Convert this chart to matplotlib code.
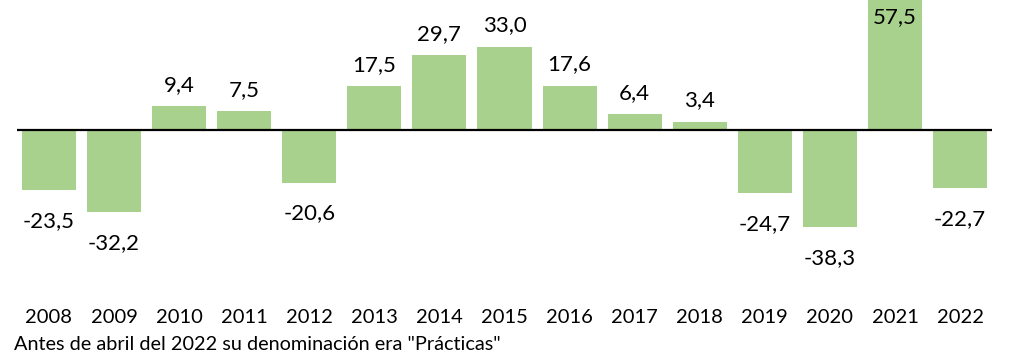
import matplotlib
matplotlib.use("Agg")
import matplotlib.pyplot as plt
import numpy as np

# Variación anual (%)
years = ["2008", "2009", "2010", "2011", "2012", "2013", "2014", "2015",
         "2016", "2017", "2018", "2019", "2020", "2021", "2022"]
values = [-23.5, -32.2, 9.4, 7.5, -20.6, 17.5, 29.7, 33.0,
          17.6, 6.4, 3.4, -24.7, -38.3, 57.5, -22.7]
note = 'Antes de abril del 2022 su denominación era "Prácticas"'

plt.rcParams["font.family"] = ["Lato", "DejaVu Sans"]

BAR = "#a9d18e"
Y_TOP = 51.4
Y_BOTTOM = -63.0

fig = plt.figure(figsize=(10.11, 3.58), dpi=100)
ax = fig.add_axes([17 / 1011, 68 / 358, 975 / 1011, 290 / 358])

x = np.arange(len(years))
ax.bar(x, values, width=0.83, color=BAR, zorder=2)
ax.axhline(0, color="black", linewidth=1.6, zorder=3)

ax.set_xlim(-0.49, len(years) - 0.51)
ax.set_ylim(Y_BOTTOM, Y_TOP)

# etiquetas de valor con coma decimal
for xi, v in zip(x, values):
    txt = f"{v:.1f}".replace(".", ",")
    if v > Y_TOP:
        ax.annotate(txt, (xi, Y_TOP), xytext=(0, -5), textcoords="offset points",
                    ha="center", va="top", fontsize=16)
    elif v >= 0:
        ax.annotate(txt, (xi, v), xytext=(0, 8), textcoords="offset points",
                    ha="center", va="bottom", fontsize=16)
    else:
        ax.annotate(txt, (xi, v), xytext=(0, -15), textcoords="offset points",
                    ha="center", va="top", fontsize=16)

ax.set_xticks(x)
ax.set_xticklabels(years, fontsize=14.5)
ax.tick_params(axis="x", length=0, pad=14)
ax.set_yticks([])
for s in ax.spines.values():
    s.set_visible(False)

fig.text(14 / 1011, 1 - 345 / 358, note, fontsize=14.3, ha="left", va="center")

fig.savefig("out.png", dpi=100)
